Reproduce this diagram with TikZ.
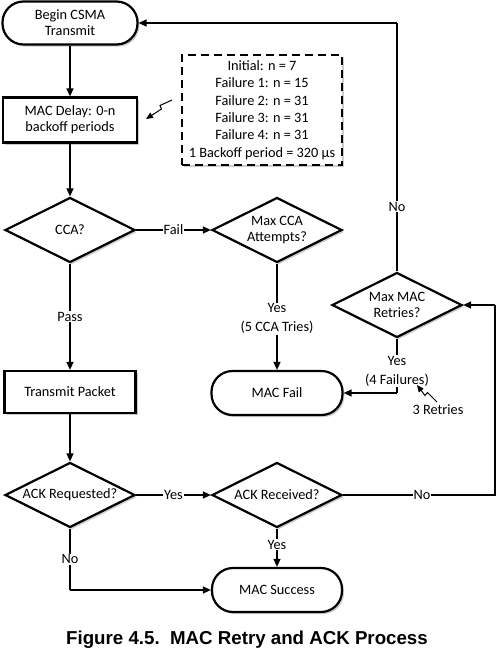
\documentclass[tikz,border=0pt]{standalone}
\usepackage{fontspec}
\setmainfont{Carlito}
\newfontfamily\capfont{Liberation Sans}
\usetikzlibrary{shapes.geometric,shadows,arrows.meta}
\begin{document}
\begin{tikzpicture}[x=1pt,y=-1pt,
  base/.style={draw, line width=2.2pt, fill=white, font=\fontsize{14.3}{16}\selectfont, align=center, inner sep=0pt,
    drop shadow={shadow xshift=2pt, shadow yshift=-2pt, fill=black!50, opacity=0.4}},
  procbox/.style={base, rectangle, minimum width=133pt, minimum height=43pt},
  termbox/.style={base, rectangle, rounded corners=21pt, minimum width=133pt, minimum height=43pt},
  decbox/.style={base, diamond, shape aspect=2, minimum width=130pt, minimum height=65pt},
  conn/.style={line width=1.4pt, -{Triangle[length=8pt,width=7pt]}},
  plainconn/.style={line width=1.4pt},
  lbl/.style={fill=white, inner sep=1pt, font=\fontsize{14.3}{19}\selectfont, align=center}]
\useasboundingbox (0,0) rectangle (501,667);

% nodes
\node[termbox, minimum width=135pt] (begin) at (70,23) {Begin CSMA\\Transmit};
\node[procbox, minimum width=134pt, minimum height=45pt] (delay) at (70,120) {MAC Delay: 0-n\\backoff periods};
\node[decbox] (cca) at (70,230) {CCA?};
\node[decbox] (maxcca) at (277,230) {Max CCA\\Attempts?};
\node[procbox, minimum width=131pt, minimum height=42pt] (tx) at (70,392) {Transmit Packet};
\node[termbox, minimum width=131pt, minimum height=44pt] (fail) at (277,393) {MAC Fail};
\node[decbox] (maxmac) at (397,305) {Max MAC\\Retries?};
\node[decbox] (ackreq) at (70,495) {ACK Requested?};
\node[decbox] (ackrec) at (277,495) {ACK Received?};
\node[termbox, minimum width=130pt, minimum height=44pt] (success) at (277,590) {MAC Success};

\node[base, dashed, dash pattern=on 8pt off 5pt, line width=1.8pt, minimum width=160pt, minimum height=110pt,
  font=\fontsize{14.3}{17.4}\selectfont] (note) at (262,110)
  {Initial: n = 7\\Failure 1: n = 15\\Failure 2: n = 31\\Failure 3: n = 31\\Failure 4: n = 31\\1 Backoff period = 320 µs};

\node[lbl, fill=none] (retries) at (438,410) {3 Retries};

% coordinates
\coordinate (topturn) at (397,23);
\coordinate (rtturn1) at (495,495);
\coordinate (rtturn2) at (495,305);
\coordinate (failturn) at (397,393);
\coordinate (succturn) at (70,590);
\coordinate (l1a) at (172,100);
\coordinate (l1b) at (160,105.5);
\coordinate (l1c) at (161.5,109);
\coordinate (l1d) at (146,119);
\coordinate (l2a) at (437,402);
\coordinate (l2b) at (427.5,392.5);
\coordinate (l2c) at (425,395.5);
\coordinate (l2d) at (417,385);

% connectors
\draw[conn] (begin) -- (delay);
\draw[conn] (delay) -- (cca);
\draw[conn] (cca) -- node[lbl]{Fail} (maxcca);
\draw[conn] (cca) -- node[lbl]{Pass} (tx);
\draw[conn] (maxcca) -- node[lbl, pos=0.52]{Yes\\(5 CCA Tries)} (fail);
\draw[conn] (tx) -- (ackreq);
\draw[conn] (ackreq) -- node[lbl]{Yes} (ackrec);
\draw[conn] (ackrec) -- node[lbl, pos=0.42]{Yes} (success);
\draw[plainconn] (ackreq.south) -- node[lbl]{No} (succturn);
\draw[conn] (succturn) -- (success.west);
\draw[plainconn] (ackrec.east) -- node[lbl, pos=0.52]{No} (rtturn1) -- (rtturn2);
\draw[conn] (rtturn2) -- (maxmac.east);
\draw[plainconn] (maxmac.north) -- node[lbl, pos=0.26]{No} (topturn);
\draw[conn] (topturn) -- (begin.east);
\draw[plainconn] (maxmac.south) -- node[lbl, pos=0.6]{Yes\\(4 Failures)} (failturn);
\draw[conn] (failturn) -- (fail.east);

% lightning pointers
\draw[line width=1pt, -{Triangle[length=7pt,width=6pt]}] (l1a) -- (l1b) -- (l1c) -- (l1d);
\draw[line width=1pt, -{Triangle[length=7pt,width=6pt]}] (l2a) -- (l2b) -- (l2c) -- (l2d);

% caption
\node[font=\capfont\bfseries\fontsize{18.7}{22}\selectfont, inner sep=0pt] (caption) at (247,640) {Figure 4.5.\ \ MAC Retry and ACK Process};
\end{tikzpicture}
\end{document}
